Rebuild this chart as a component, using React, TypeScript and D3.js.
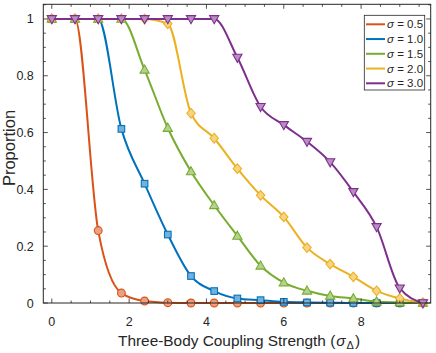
import React from "react";
import * as d3 from "d3";

const xs = [0, 0.6, 1.2, 1.8, 2.4, 3.0, 3.6, 4.2, 4.8, 5.4, 6.0, 6.6, 7.2, 7.8, 8.4, 9.0, 9.6];
const s05 = [1, 1, 0.255, 0.035, 0.007, 0.001, 0, 0, 0, 0, 0, 0, 0, 0, 0, 0, 0];
const s10 = [1, 1, 1, 0.613, 0.42, 0.241, 0.095, 0.042, 0.016, 0.01, 0.004, 0.002, 0.001, 0, 0, 0, 0];
const s15 = [1, 1, 1, 1, 0.821, 0.616, 0.463, 0.344, 0.236, 0.131, 0.072, 0.043, 0.025, 0.016, 0.005, 0.002, 0];
const s20 = [1, 1, 1, 1, 1, 0.983, 0.668, 0.58, 0.473, 0.379, 0.303, 0.195, 0.137, 0.092, 0.043, 0.016, 0];
const s30 = [1, 1, 1, 1, 1, 1, 1, 1, 0.864, 0.691, 0.627, 0.568, 0.496, 0.391, 0.268, 0.052, 0];
const labels = ["0.5", "1.0", "1.5", "2.0", "3.0"];
const colors = ["#D95319", "#0072BD", "#77AC30", "#EDB120", "#7E2F8E"];
const markers = ["circle", "square", "triUp", "diamond", "triDown"];
const xTicks = [0, 2, 4, 6, 8];
const yTicks = [0, 0.2, 0.4, 0.6, 0.8, 1];

const series = [s05, s10, s15, s20, s30];

const L = 43.3, R = 430.7, T = 4.3, B = 303;
const axisColor = "#262626";
const font = "'Liberation Sans', Arial, sans-serif";

function Marker({ kind, x, y, color }: { kind: string; x: number; y: number; color: string }) {
  const fill = d3.interpolateRgb(color, "#ffffff")(0.45);
  const common = { fill, stroke: color, strokeWidth: 1.1 };
  if (kind === "circle") return <circle cx={x} cy={y} r={3.9} {...common} />;
  if (kind === "square") return <rect x={x - 3.3} y={y - 3.3} width={6.6} height={6.6} {...common} />;
  if (kind === "diamond")
    return <path d={`M${x},${y - 4.8}L${x + 4.2},${y}L${x},${y + 4.8}L${x - 4.2},${y}Z`} {...common} />;
  if (kind === "triUp")
    return <path d={`M${x},${y - 4.8}L${x + 4.6},${y + 3.3}L${x - 4.6},${y + 3.3}Z`} {...common} />;
  return <path d={`M${x},${y + 4.8}L${x + 4.6},${y - 3.3}L${x - 4.6},${y - 3.3}Z`} {...common} />;
}

export default function App() {
  const x = d3.scaleLinear().domain([-0.22, 9.8]).range([L, R]);
  const y = d3.scaleLinear().domain([0, 1.0516]).range([B, T]);
  const line = d3
    .line<number>()
    .x((_, i) => x(xs[i]))
    .y((d) => y(d))
    .curve(d3.curveMonotoneX);

  const xMinor = d3.range(0, 10, 0.5);
  const yMinor = d3.range(0, 1.051, 0.05);

  return (
    <svg width={436} height={353} style={{ position: "absolute", left: 0, top: 0 }}>
      <rect x={0} y={0} width={436} height={353} fill="#fff" />
      {series.map((s, k) => (
        <g key={k}>
          <path d={line(s) || ""} fill="none" stroke={colors[k]} strokeWidth={2} />
          {s.map((v, i) => (
            <Marker key={i} kind={markers[k]} x={x(xs[i])} y={y(v)} color={colors[k]} />
          ))}
        </g>
      ))}
      <g stroke={axisColor} strokeWidth={0.8}>
        {xMinor.map((t, i) => {
          const major = Math.abs(t - Math.round(t / 2) * 2) < 1e-6;
          const len = major ? 4.5 : 2.5;
          return (
            <g key={i}>
              <line x1={x(t)} x2={x(t)} y1={B} y2={B - len} />
              <line x1={x(t)} x2={x(t)} y1={T} y2={T + len} />
            </g>
          );
        })}
        {yMinor.map((t, i) => {
          const major = Math.abs(t * 5 - Math.round(t * 5)) < 1e-6;
          const len = major ? 4.5 : 2.5;
          return (
            <g key={i}>
              <line x1={L} x2={L + len} y1={y(t)} y2={y(t)} />
              <line x1={R} x2={R - len} y1={y(t)} y2={y(t)} />
            </g>
          );
        })}
      </g>
      <rect x={L} y={T} width={R - L} height={B - T} fill="none" stroke={axisColor} strokeWidth={1} />
      <g fontFamily={font} fontSize={12.5} fill={axisColor}>
        {xTicks.map((t) => (
          <text key={t} x={x(t)} y={325.5} textAnchor="middle">
            {t}
          </text>
        ))}
        {yTicks.map((t) => (
          <text key={t} x={L - 9.5} y={y(t) + 4.5} textAnchor="end">
            {String(t)}
          </text>
        ))}
      </g>
      <text
        fontFamily={font}
        fontSize={16.5}
        fill={axisColor}
        textAnchor="middle"
        transform={`translate(14.5, 148) rotate(-90)`}
      >
        Proportion
      </text>
      <text fontFamily={font} fontSize={15.4} fill={axisColor} x={118} y={345.5} textAnchor="start">
        Three-Body Coupling Strength (<tspan fontStyle="italic" dx={1}>σ</tspan>
        <tspan fontSize={11} dy={3.5} dx={1}>Δ</tspan>
        <tspan dy={-3.5} dx={1}>)</tspan>
      </text>
      <g>
        <rect x={364.3} y={15.3} width={60.4} height={74.7} fill="#fff" stroke={axisColor} strokeWidth={0.8} />
        {labels.map((lab, k) => {
          const ly = 24.3 + k * 14.75;
          return (
            <g key={k}>
              <line x1={366} x2={385} y1={ly} y2={ly} stroke={colors[k]} strokeWidth={2} />
              <text x={387} y={ly + 4} fontFamily={font} fontSize={11.5} fill={axisColor}>
                <tspan fontStyle="italic">σ</tspan> = {lab}
              </text>
            </g>
          );
        })}
      </g>
    </svg>
  );
}
